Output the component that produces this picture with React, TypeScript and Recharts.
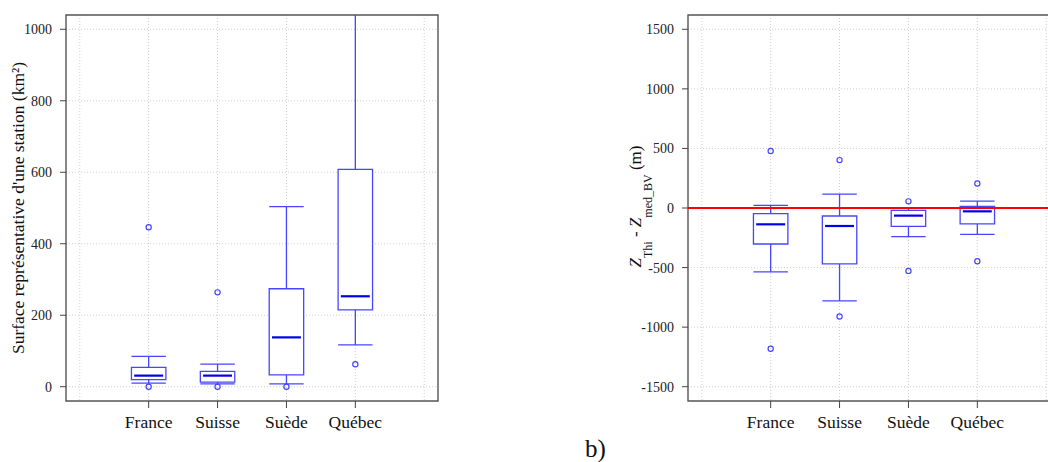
import React from "react";
import {
  CartesianGrid,
  ComposedChart,
  ReferenceArea,
  ReferenceLine,
  Scatter,
  XAxis,
  YAxis,
} from "recharts";

const CATEGORIES = ["France", "Suisse", "Suède", "Québec"];
const POSITIONS = [1, 2, 3, 4];
const GRID_X = [0, 1, 2, 3, 4, 5];

// a) surface représentative d'une station (km²)
const AREA_LOW = [10, 8, 8, 117];
const AREA_Q1 = [20, 13, 33, 215];
const AREA_MED = [31, 31, 138, 253];
const AREA_Q3 = [54, 43, 274, 608];
const AREA_HIGH = [85, 63, 504, 1250];
const AREA_OUTLIERS = [[0, 446], [0, 264], [0], [63]];
const AREA_TICKS = [0, 200, 400, 600, 800, 1000];

// b) Z_Thi - Z_med_BV (m)
const DZ_LOW = [-536, -779, -240, -221];
const DZ_Q1 = [-302, -469, -154, -134];
const DZ_MED = [-137, -151, -64, -28];
const DZ_Q3 = [-48, -67, -20, 14];
const DZ_HIGH = [22, 117, -3, 58];
const DZ_OUTLIERS = [[478, -1182], [402, -911], [56, -528], [206, -447]];
const DZ_TICKS = [-1500, -1000, -500, 0, 500, 1000, 1500];

const SERIF = "'Liberation Serif', 'DejaVu Serif', serif";
const BOX = "#4646ff";
const MEDIAN = "#0000e6";
const FRAME = "#555555";
const X_DOMAIN: [number, number] = [-0.2, 5.2];

const toPoints = (outliers: number[][]) =>
  outliers.flatMap((vals, i) => vals.map((y) => ({ x: POSITIONS[i], y })));

const ring = (props: any) => (
  <circle
    cx={props.cx}
    cy={props.cy}
    r={2.6}
    fill="none"
    stroke={BOX}
    strokeWidth={1.2}
  />
);

function boxMarks(
  id: string,
  low: number[],
  q1: number[],
  med: number[],
  q3: number[],
  high: number[],
) {
  const half = 0.25;
  const medHalf = 0.21;
  const marks: React.ReactElement[] = [];
  POSITIONS.forEach((p, i) => {
    marks.push(
      <ReferenceLine
        key={`${id}-wu-${i}`}
        segment={[
          { x: p, y: q3[i] },
          { x: p, y: high[i] },
        ]}
        stroke={BOX}
        strokeWidth={1.3}
        ifOverflow="hidden"
      />,
      <ReferenceLine
        key={`${id}-wl-${i}`}
        segment={[
          { x: p, y: low[i] },
          { x: p, y: q1[i] },
        ]}
        stroke={BOX}
        strokeWidth={1.3}
        ifOverflow="hidden"
      />,
      <ReferenceLine
        key={`${id}-cl-${i}`}
        segment={[
          { x: p - half, y: low[i] },
          { x: p + half, y: low[i] },
        ]}
        stroke={BOX}
        strokeWidth={1.3}
        ifOverflow="hidden"
      />,
      <ReferenceLine
        key={`${id}-cu-${i}`}
        segment={[
          { x: p - half, y: high[i] },
          { x: p + half, y: high[i] },
        ]}
        stroke={BOX}
        strokeWidth={1.3}
        ifOverflow="hidden"
      />,
      <ReferenceArea
        key={`${id}-box-${i}`}
        x1={p - half}
        x2={p + half}
        y1={q1[i]}
        y2={q3[i]}
        fill="#ffffff"
        fillOpacity={1}
        stroke={BOX}
        strokeWidth={1.3}
        ifOverflow="hidden"
      />,
      <ReferenceLine
        key={`${id}-med-${i}`}
        segment={[
          { x: p - medHalf, y: med[i] },
          { x: p + medHalf, y: med[i] },
        ]}
        stroke={MEDIAN}
        strokeWidth={2.2}
        ifOverflow="hidden"
      />,
    );
  });
  return marks;
}

const CategoryTick = (props: any) => {
  const { x, y, payload } = props;
  return (
    <text
      x={x}
      y={y}
      dy="0.71em"
      textAnchor="middle"
      style={{ fontFamily: SERIF }}
      fontSize={17.5}
      fill="#111"
    >
      {CATEGORIES[payload.value - 1] ?? ""}
    </text>
  );
};

const ValueTick = (props: any) => {
  const { x, y, payload } = props;
  return (
    <text
      x={x}
      y={y}
      dy="0.355em"
      textAnchor="end"
      style={{ fontFamily: SERIF }}
      fontSize={14}
      fill="#222"
    >
      {payload.value}
    </text>
  );
};

const leftTitle = (props: any) => {
  const vb = props.viewBox || { x: 0, y: 15, width: 66, height: 386 };
  const cx = vb.x + 23.5;
  const cy = vb.y + vb.height / 2;
  return (
    <text
      x={cx}
      y={cy}
      transform={`rotate(-90, ${cx}, ${cy})`}
      textAnchor="middle"
      style={{ fontFamily: SERIF }}
      fontSize={17.5}
      fill="#111"
    >
      Surface représentative d'une station (km²)
    </text>
  );
};

const rightTitle = (props: any) => {
  const vb = props.viewBox || { x: 0, y: 15, width: 88, height: 386 };
  const cx = vb.x + 41;
  const cy = vb.y + vb.height / 2 - 1.5;
  return (
    <text
      x={cx}
      y={cy}
      transform={`rotate(-90, ${cx}, ${cy})`}
      textAnchor="middle"
      style={{ fontFamily: SERIF }}
      fontSize={17}
      fill="#111"
    >
      <tspan fontStyle="italic">Z</tspan>
      <tspan fontSize={12} dy={11}>
        Thi
      </tspan>
      <tspan dy={-11}> - </tspan>
      <tspan fontStyle="italic">Z</tspan>
      <tspan fontSize={12} dy={11}>
        med_BV
      </tspan>
      <tspan dy={-11}> (m)</tspan>
    </text>
  );
};

const xAxisProps = {
  dataKey: "x",
  type: "number" as const,
  domain: X_DOMAIN,
  ticks: POSITIONS,
  allowDataOverflow: true,
  axisLine: false,
  tickLine: { stroke: "#444" },
  tickSize: 7,
  tickMargin: 8,
  height: 40,
  interval: 0 as const,
  tick: CategoryTick,
};

export default function App() {
  const areaPoints = toPoints(AREA_OUTLIERS);
  const dzPoints = toPoints(DZ_OUTLIERS);

  return (
    <div
      style={{
        position: "fixed",
        left: 0,
        top: 0,
        width: 1048,
        height: 462,
        overflow: "hidden",
        background: "#fff",
        fontFamily: SERIF,
      }}
    >
      <div style={{ position: "absolute", left: 0, top: 0 }}>
        <ComposedChart
          width={448}
          height={462}
          margin={{ top: 15, right: 10, bottom: 21, left: 0 }}
        >
          <CartesianGrid
            stroke="#cfcfcf"
            strokeDasharray="1 2"
            verticalValues={GRID_X}
            horizontalValues={AREA_TICKS}
          />
          <XAxis {...xAxisProps} />
          <YAxis
            dataKey="y"
            type="number"
            domain={[-40, 1040]}
            ticks={AREA_TICKS}
            allowDataOverflow
            width={66}
            axisLine={false}
            tickLine={{ stroke: "#444" }}
            tickSize={6}
            tickMargin={8}
            tick={ValueTick}
            label={leftTitle}
          />
          <ReferenceArea
            x1={X_DOMAIN[0]}
            x2={X_DOMAIN[1]}
            y1={-40}
            y2={1040}
            fill="none"
            stroke={FRAME}
            strokeWidth={1.4}
            ifOverflow="visible"
          />
          {boxMarks("a", AREA_LOW, AREA_Q1, AREA_MED, AREA_Q3, AREA_HIGH)}
          <Scatter
            data={areaPoints}
            dataKey="y"
            shape={ring}
            isAnimationActive={false}
          />
        </ComposedChart>
      </div>

      <div style={{ position: "absolute", left: 600, top: 0 }}>
        <ComposedChart
          width={470}
          height={462}
          margin={{ top: 15, right: 10, bottom: 21, left: 0 }}
        >
          <CartesianGrid
            stroke="#cfcfcf"
            strokeDasharray="1 2"
            verticalValues={GRID_X}
            horizontalValues={DZ_TICKS}
          />
          <XAxis {...xAxisProps} />
          <YAxis
            dataKey="y"
            type="number"
            domain={[-1620, 1620]}
            ticks={DZ_TICKS}
            allowDataOverflow
            width={88}
            axisLine={false}
            tickLine={{ stroke: "#444" }}
            tickSize={6}
            tickMargin={8}
            tick={ValueTick}
            label={rightTitle}
          />
          <ReferenceArea
            x1={X_DOMAIN[0]}
            x2={X_DOMAIN[1]}
            y1={-1620}
            y2={1620}
            fill="none"
            stroke={FRAME}
            strokeWidth={1.4}
            ifOverflow="visible"
          />
          {boxMarks("b", DZ_LOW, DZ_Q1, DZ_MED, DZ_Q3, DZ_HIGH)}
          <Scatter
            data={dzPoints}
            dataKey="y"
            shape={ring}
            isAnimationActive={false}
          />
          <ReferenceLine y={0} stroke="#ff0000" strokeWidth={2} />
        </ComposedChart>
      </div>

      <svg
        width={1048}
        height={462}
        style={{ position: "absolute", left: 0, top: 0, pointerEvents: "none" }}
      >
        <text x={585} y={457} style={{ fontFamily: SERIF }} fontSize={25} fill="#111">
          b)
        </text>
      </svg>
    </div>
  );
}
